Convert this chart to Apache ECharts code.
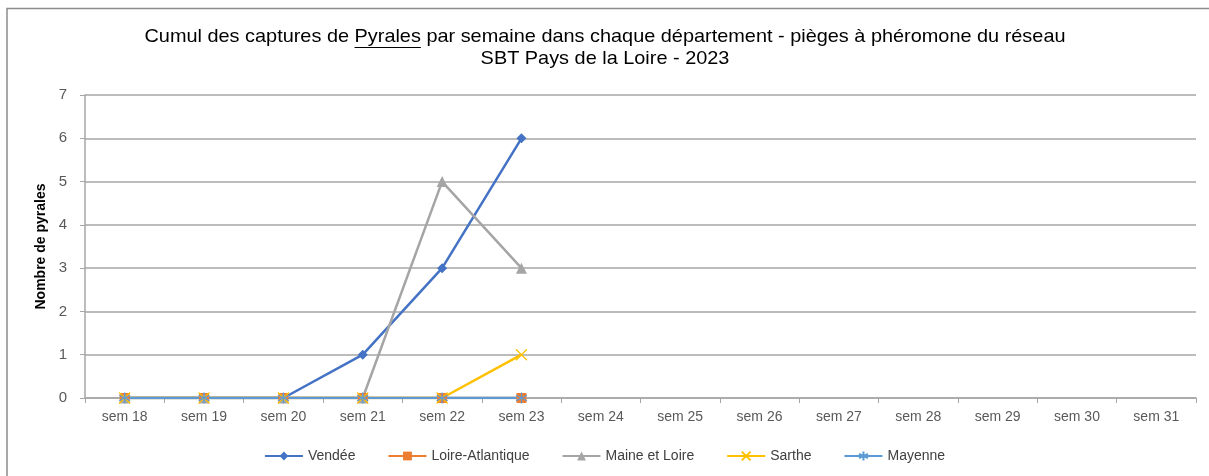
<!DOCTYPE html>
<html>
<head>
<meta charset="utf-8">
<script src="https://cdn.jsdelivr.net/npm/echarts@6/dist/echarts.min.js"></script>
<style>
  html, body { margin: 0; padding: 0; background: #fff; }
  #chart { width: 1209px; height: 476px; }
</style>
</head>
<body>
<div id="chart"></div>
<script>
// semaines
const weeks = ["sem 18", "sem 19", "sem 20", "sem 21", "sem 22", "sem 23", "sem 24",
  "sem 25", "sem 26", "sem 27", "sem 28", "sem 29", "sem 30", "sem 31"];

// captures cumulées par département
const vendee = [0, 0, 0, 1, 3, 6];
const loireAtlantique = [0, 0, 0, 0, 0, 0];
const maineEtLoire = [0, 0, 0, 0, 5, 3];
const sarthe = [0, 0, 0, 0, 0, 1];
const mayenne = [0, 0, 0, 0, 0, 0];

const titleFont = '19px "Liberation Sans", sans-serif';
const crossPath = "path://M0,0L10,10M10,0L0,10";
const starPath = "path://M5,0L5,10M0.7,2.5L9.3,7.5M9.3,2.5L0.7,7.5";

function line(name, data, color, symbol, size, strokeOnly) {
  return {
    name, data, type: "line",
    symbol, symbolSize: size,
    lineStyle: { color, width: 2.5 },
    itemStyle: strokeOnly
      ? { color: "none", borderColor: color, borderWidth: 1.2 }
      : { color, borderWidth: 0 },
    emphasis: { disabled: true }
  };
}

// titre : on ajuste la largeur sur celle de l'original
const ctx = document.createElement("canvas").getContext("2d");
ctx.font = titleFont;
const line1 = "Cumul des captures de Pyrales par semaine dans chaque département - pièges à phéromone du réseau";
const line2 = "SBT Pays de la Loire - 2023";
const before = ctx.measureText("Cumul des captures de ").width;
const word = ctx.measureText("Pyrales").width;
const full = ctx.measureText(line1).width;
const sx = 921 / full;
const ux = 605 + (before - full / 2) * sx;

let chart = echarts.init(document.getElementById("chart"));
chart.setOption({
  animation: false,
  color: ["#4472C4", "#ED7D31", "#A5A5A5", "#FFC000", "#5B9BD5"],
  graphic: [
    { type: "rect", shape: { x: 7, y: 8.5, width: 1300, height: 600 },
      style: { fill: "none", stroke: "#8c8c8c", lineWidth: 1.5 }, silent: true },
    { type: "text", x: 605, y: 37, scaleX: sx, style: { text: line1, font: titleFont, fill: "#000",
      align: "center", verticalAlign: "middle" } },
    { type: "text", x: 605, y: 59, scaleX: sx, style: { text: line2, font: titleFont,
      fill: "#000", align: "center", verticalAlign: "middle" } },
    { type: "line", shape: { x1: ux, y1: 47.5, x2: ux + word * sx, y2: 47.5 },
      style: { stroke: "#000", lineWidth: 1 } }
  ],
  grid: { left: 85, right: 13, top: 95, bottom: 78 },
  legend: {
    bottom: 8, left: "center", itemWidth: 38, itemHeight: 11, itemGap: 32,
    textStyle: { fontFamily: "Liberation Sans", fontSize: 14, color: "#404040" },
    data: ["Vendée", "Loire-Atlantique", "Maine et Loire", "Sarthe", "Mayenne"]
  },
  xAxis: {
    type: "category", data: weeks, boundaryGap: true,
    axisLine: { lineStyle: { color: "#a6a6a6", width: 1.5 } },
    axisTick: { show: true, length: 5, interval: 0, lineStyle: { color: "#a6a6a6" } },
    axisLabel: { fontFamily: "Liberation Sans", fontSize: 14, color: "#595959", margin: 12, interval: 0 }
  },
  yAxis: {
    type: "value", min: 0, max: 7, interval: 1,
    name: "Nombre de pyrales", nameLocation: "middle", nameGap: 34,
    nameTextStyle: { fontFamily: "Liberation Sans", fontSize: 14, fontWeight: "bold", color: "#000" },
    axisLine: { show: true, lineStyle: { color: "#a6a6a6", width: 1.5 } },
    axisTick: { show: true, length: 5, lineStyle: { color: "#a6a6a6" } },
    axisLabel: { fontFamily: "Liberation Sans", fontSize: 15, color: "#595959", margin: 18 },
    splitLine: { lineStyle: { color: "#a6a6a6", width: 1.5 } }
  },
  series: [
    line("Vendée", vendee, "#4472C4", "diamond", 10),
    line("Loire-Atlantique", loireAtlantique, "#ED7D31", "rect", 10),
    line("Maine et Loire", maineEtLoire, "#A5A5A5", "triangle", 11),
    line("Sarthe", sarthe, "#FFC000", crossPath, 11, true),
    line("Mayenne", mayenne, "#5B9BD5", starPath, 11, true)
  ]
});
window.addEventListener("resize", () => chart.resize());
</script>
</body>
</html>
